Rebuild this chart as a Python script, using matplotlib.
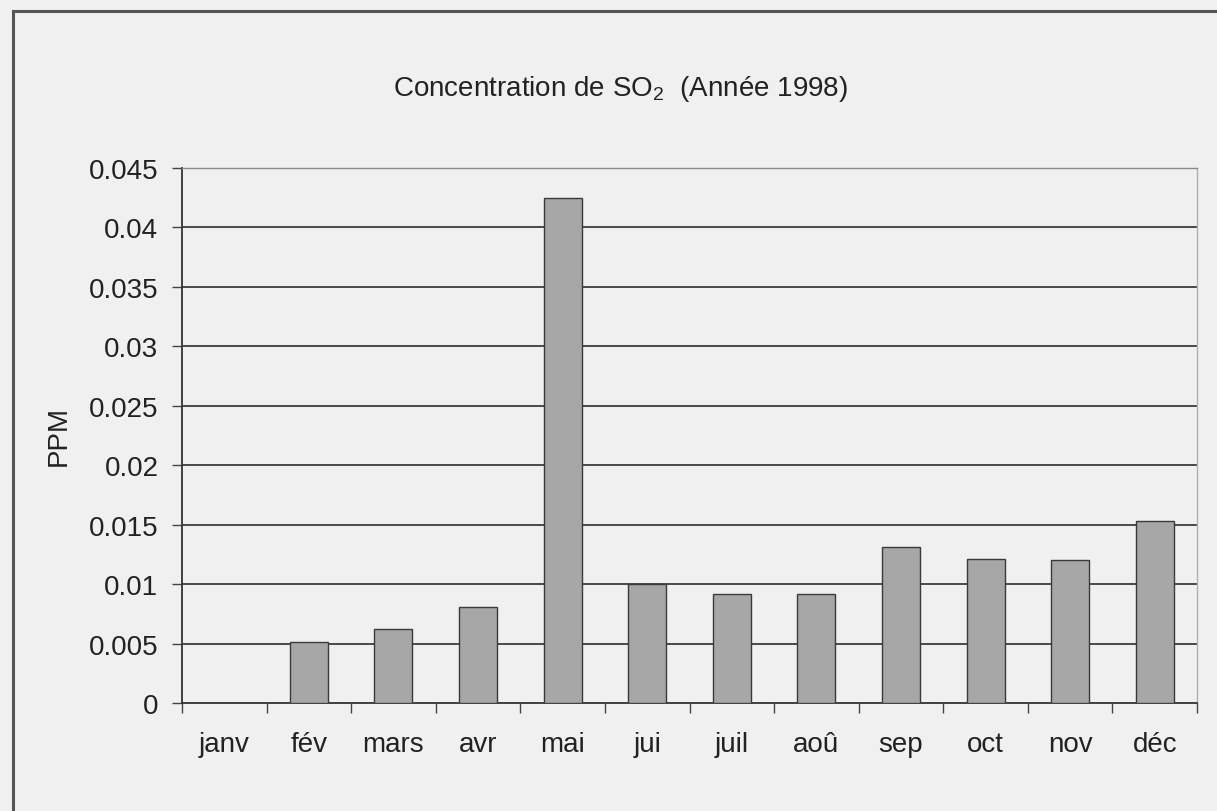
import numpy as np
import matplotlib
matplotlib.use("Agg")
import matplotlib.pyplot as plt

plt.rcParams['font.family'] = ['Liberation Sans', 'DejaVu Sans']
plt.rcParams['mathtext.fontset'] = 'custom'
plt.rcParams['mathtext.rm'] = 'Liberation Sans'

# Monthly SO2 concentration (PPM), 1998 — no measurement for January
months = ['janv', 'fév', 'mars', 'avr', 'mai', 'jui', 'juil', 'aoû',
          'sep', 'oct', 'nov', 'déc']
so2_ppm = [np.nan, 0.0051, 0.0062, 0.0081, 0.0425, 0.0100, 0.0092,
           0.0092, 0.0131, 0.0121, 0.0120, 0.0153]
yticks = [0, 0.005, 0.01, 0.015, 0.02, 0.025, 0.03, 0.035, 0.04, 0.045]
ytick_labels = ['0', '0.005', '0.01', '0.015', '0.02', '0.025', '0.03',
                '0.035', '0.04', '0.045']

W, H = 1217, 812
bg = '#f0f0f0'
fig = plt.figure(figsize=(W / 100, H / 100), dpi=100, facecolor=bg)

# chart frame (top and left edges)
fig.add_artist(plt.Line2D([13 / W, 13 / W], [0, 1 - 12 / H],
                          transform=fig.transFigure, color='#555555', lw=2.2))
fig.add_artist(plt.Line2D([13 / W, 1], [1 - 12 / H, 1 - 12 / H],
                          transform=fig.transFigure, color='#555555', lw=2.2))

ax = fig.add_axes([182 / W, (H - 704) / H, (1197 - 182) / W, (704 - 169) / H])
ax.set_facecolor(bg)

x = np.arange(len(months))
ax.bar(x, so2_ppm, width=0.45, color='#a7a7a7', edgecolor='#3a3a3a',
       linewidth=1.0, zorder=3)

ax.set_xlim(-0.5, len(months) - 0.5)
ax.set_ylim(0, 0.045)

# horizontal gridlines
for v in yticks[1:-1]:
    ax.axhline(v, color='#3c3c3c', lw=1.3, zorder=1)

ax.set_yticks(yticks)
ax.set_yticklabels(ytick_labels)
ax.tick_params(axis='y', direction='out', length=7, width=1.0,
               color='#444444', labelsize=20, pad=10, labelcolor='#222222')

# category boundaries as major ticks, month names on minor ticks
ax.set_xticks(np.arange(-0.5, len(months), 1.0))
ax.set_xticklabels([])
ax.set_xticks(x, minor=True)
ax.set_xticklabels(months, minor=True)
ax.tick_params(axis='x', which='major', direction='out', length=7,
               width=1.0, color='#444444')
ax.tick_params(axis='x', which='minor', length=0, labelsize=20, pad=20,
               labelcolor='#222222')

ax.spines['left'].set_color('#333333')
ax.spines['left'].set_linewidth(1.3)
ax.spines['bottom'].set_color('#333333')
ax.spines['bottom'].set_linewidth(1.3)
ax.spines['top'].set_color('#8a8a8a')
ax.spines['top'].set_linestyle((0, (2, 1)))
ax.spines['top'].set_linewidth(1.0)
ax.spines['right'].set_color('#b0b0b0')
ax.spines['right'].set_linewidth(1.0)

ax.set_ylabel('PPM', fontsize=20, color='#222222', labelpad=12)

fig.text(621 / W, 1 - 96 / H,
         r'Concentration de SO$_\mathregular{2}$  (Année 1998)',
         ha='center', va='baseline', fontsize=20, color='#222222')

fig.savefig('out.png', dpi=100, facecolor=bg)
